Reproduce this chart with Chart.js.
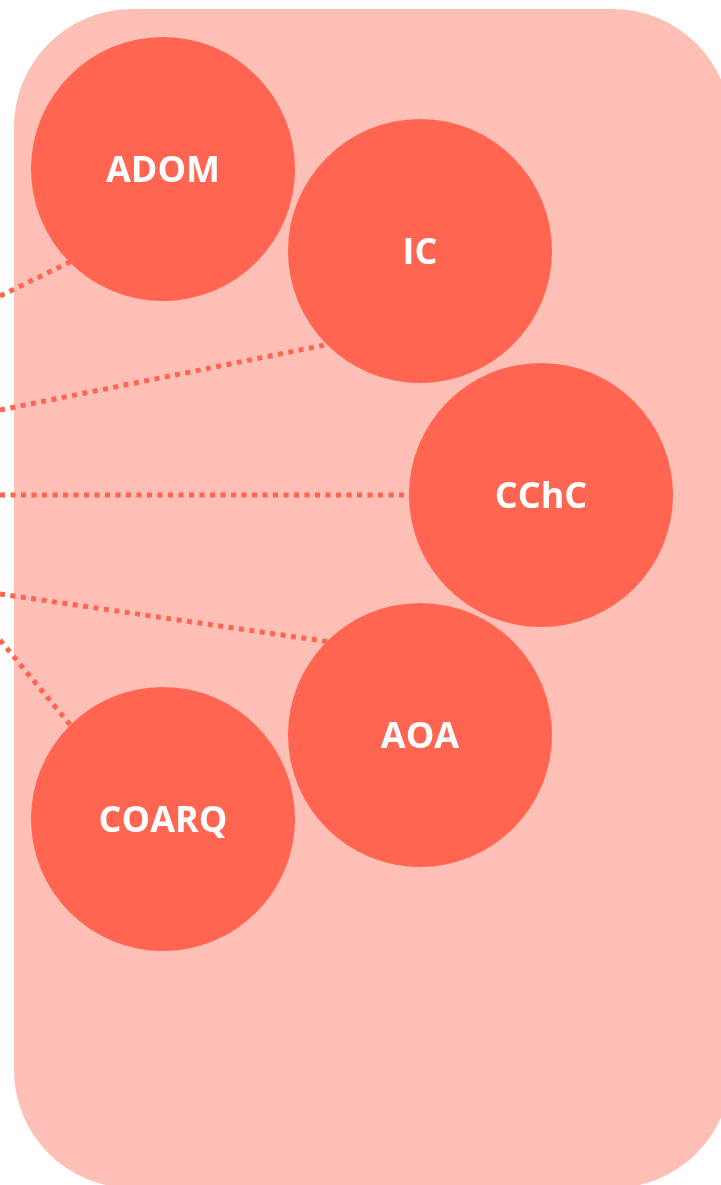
<!DOCTYPE html>
<html>
<head>
<meta charset="utf-8">
<script src="https://cdn.jsdelivr.net/npm/chart.js@4.4.1/dist/chart.umd.min.js"></script>
<style>
  html, body { margin: 0; padding: 0; background: #ffffff; }
  canvas { display: block; }
</style>
</head>
<body>
<canvas id="myChart" width="721" height="1185"></canvas>
<script>
// nodes
const labels = ['ADOM', 'IC', 'CChC', 'AOA', 'COARQ'];
const nodeX = [163, 420, 541, 420, 163];
const nodeY = [169, 251, 495, 735, 819];
const nodeR = [132, 132, 132, 132, 132];

// dotted links coming in from the left edge
const linkFromX = [0, 0, 0, 0, 0];
const linkFromY = [296, 410, 495, 594, 640];
const linkToX = [72, 330, 412, 330, 72];
const linkToY = [261, 344, 495, 642, 727];

const panelColor = '#FEBFB6';
const nodeColor = '#FF6550';

const panel = {
  id: 'panel',
  beforeDatasetsDraw: (chart) => {
    const { ctx, scales: { x, y } } = chart;
    ctx.save();
    ctx.fillStyle = panelColor;
    ctx.beginPath();
    const left = x.getPixelForValue(14);
    const top = y.getPixelForValue(9);
    const right = x.getPixelForValue(731);
    const bottom = y.getPixelForValue(1188);
    ctx.roundRect(left, top, right - left, bottom - top, 118);
    ctx.fill();
    ctx.restore();
  }
};

const nodeLabels = {
  id: 'nodeLabels',
  afterDatasetsDraw: (chart) => {
    const { ctx } = chart;
    const meta = chart.getDatasetMeta(chart.data.datasets.length - 1);
    ctx.save();
    ctx.fillStyle = '#ffffff';
    ctx.font = 'bold 36px "Open Sans"';
    ctx.textAlign = 'center';
    ctx.textBaseline = 'middle';
    meta.data.forEach((pt, i) => {
      ctx.fillText(labels[i], pt.x, pt.y + 3);
    });
    ctx.restore();
  }
};

const linkSets = linkFromX.map((fx, i) => ({
  type: 'line',
  data: [{ x: fx, y: linkFromY[i] }, { x: linkToX[i], y: linkToY[i] }],
  borderColor: nodeColor,
  borderWidth: 5,
  borderDash: [5, 5.5],
  borderCapStyle: 'butt',
  pointRadius: 0,
  fill: false,
  order: 2,
}));

const config = {
  type: 'bubble',
  data: {
    datasets: [
      ...linkSets,
      {
        type: 'bubble',
        data: labels.map((l, i) => ({ x: nodeX[i], y: nodeY[i], r: nodeR[i] })),
        backgroundColor: nodeColor,
        borderWidth: 0,
        hoverRadius: 0,
        clip: false,
        order: 1,
      }
    ]
  },
  options: {
    responsive: false,
    animation: false,
    layout: { padding: 0, autoPadding: false },
    scales: {
      x: { type: 'linear', min: 0, max: 721, display: false },
      y: { type: 'linear', min: 0, max: 1185, reverse: true, display: false },
    },
    plugins: {
      legend: { display: false },
      tooltip: { enabled: false },
    },
  },
  plugins: [panel, nodeLabels]
};

new Chart(document.getElementById('myChart').getContext('2d'), config);
</script>
</body>
</html>
